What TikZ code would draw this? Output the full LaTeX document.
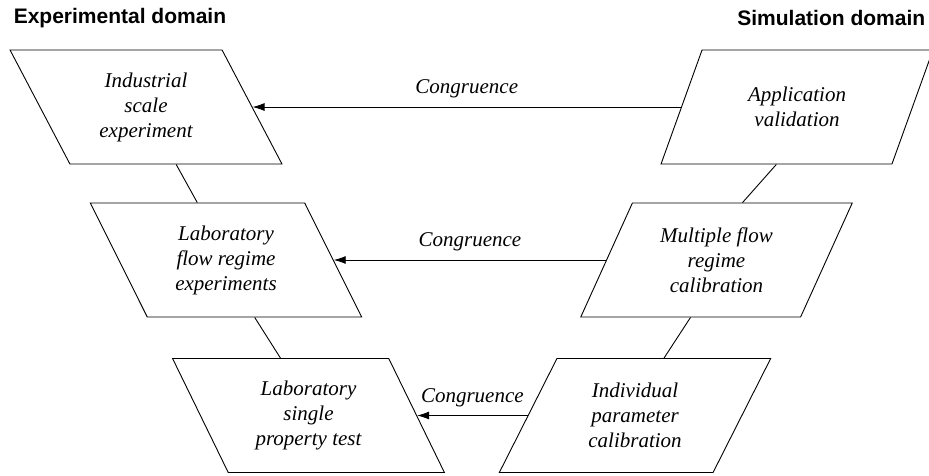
\documentclass[tikz,border=0pt]{standalone}
\usepackage{fontspec}
\setmainfont{Liberation Serif}
\setsansfont{Liberation Sans}
\usetikzlibrary{shapes.geometric,arrows.meta}
\begin{document}
\begin{tikzpicture}[x=1pt,y=-1pt,line width=0.9pt,
		box/.style={trapezium,draw,trapezium stretches=true,minimum width=272pt,minimum height=114pt,inner sep=0pt,align=center,font=\fontsize{21}{25}\selectfont\itshape},
		expbox/.style={box,trapezium left angle=118,trapezium right angle=62},
		simbox/.style={box,trapezium left angle=62,trapezium right angle=118},
		congr/.style={-{Latex[length=12pt,width=8pt]}}]
		 \useasboundingbox (0,0) rectangle (929,475);
		 \node[anchor=west,font=\fontsize{21}{25}\selectfont\sffamily\bfseries] (expdom) at (10,18) {Experimental domain};
		 \node[anchor=east,font=\fontsize{21}{25}\selectfont\sffamily\bfseries] (simdom) at (929,18) {Simulation domain};
		 \node[expbox] (ind) at (146,107) {Industrial\\scale\\experiment};
		 \node[expbox] (flow) at (226,260) {Laboratory\\flow regime\\experiments};
		 \node[expbox] (single) at (308.5,415.5) {Laboratory\\single\\property test};
		 \node[simbox] (appl) at (797,107) {Application\\validation};
		 \node[simbox] (multi) at (716.5,260) {Multiple flow\\regime\\calibration};
		 \node[simbox] (param) at (635,415.5) {Individual\\parameter\\calibration};
		 \draw (ind.bottom side) -- (flow.top side); \draw (flow.bottom side) -- (single.top side);
		 \draw (appl.bottom side) -- (multi.top side); \draw (multi.bottom side) -- (param.top side);
		 \draw[congr] (appl.left side) -- (ind.right side) node[midway,above=5pt,font=\fontsize{21}{25}\selectfont\itshape] (c1) {Congruence};
		 \draw[congr] (multi.left side) -- (flow.right side) node[midway,above=5pt,font=\fontsize{21}{25}\selectfont\itshape] (c2) {Congruence};
		 \draw[congr] (param.left side) -- (single.right side) node[midway,above=5pt,font=\fontsize{21}{25}\selectfont\itshape] (c3) {Congruence};
\end{tikzpicture}
\end{document}
